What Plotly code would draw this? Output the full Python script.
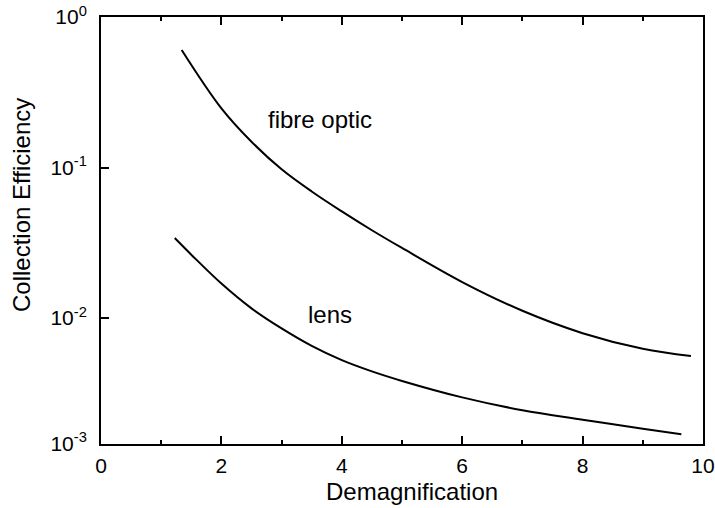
import math
import plotly.graph_objects as go

# Demagnification values and collection efficiencies
fibre_x = [1.34, 2.0, 2.5, 3.0, 3.5, 4.0, 4.5, 5.0, 6.0, 7.0, 8.0, 9.0, 9.8]
fibre_y = [0.604, 0.2472, 0.1483, 0.0973, 0.0693, 0.0511, 0.0383, 0.0292, 0.01734, 0.01117,
           0.00793, 0.00625, 0.00559]

lens_x = [1.225, 1.5, 2.0, 2.5, 3.0, 3.5, 4.0, 4.5, 5.0, 6.0, 7.0, 8.0, 9.0, 9.64]
lens_y = [0.0340, 0.02636, 0.01694, 0.01159, 0.00853, 0.00653, 0.00525, 0.00442, 0.00382,
          0.00297, 0.00244, 0.00211, 0.00184, 0.00169]

x_ticks = [0, 2, 4, 6, 8, 10]
y_tick_vals = [1, 0.1, 0.01, 10 ** -2.835]
y_tick_text = ["10<sup>0</sup>", "10<sup>-1</sup>", "10<sup>-2</sup>", "10<sup>-3</sup>"]

curve_labels = ["fibre optic", "lens"]
label_x = [3.63, 3.81]
label_y = [0.210, 0.0105]

FONT = "Liberation Sans, Arial, Helvetica, sans-serif"

fig = go.Figure()
fig.add_trace(go.Scatter(x=fibre_x, y=fibre_y, mode="lines", name="fibre optic",
                         line=dict(color="black", width=2, shape="spline", smoothing=1.0)))
fig.add_trace(go.Scatter(x=lens_x, y=lens_y, mode="lines", name="lens",
                         line=dict(color="black", width=2, shape="spline", smoothing=1.0)))

fig.update_layout(
    width=715, height=508,
    margin=dict(l=101, r=12, t=17, b=64),
    paper_bgcolor="white", plot_bgcolor="white",
    showlegend=False,
    font=dict(family=FONT, color="black", size=21),
    xaxis=dict(range=[0, 10], tickvals=x_ticks, ticks="inside", ticklen=8, tickwidth=1.5,
               tickcolor="black", showline=True, linecolor="black", linewidth=2, mirror="ticks",
               showgrid=False, zeroline=False, tickfont=dict(size=21), ticklabeloverflow="allow",
               ticklabelstandoff=2, automargin=False,
               minor=dict(dtick=1, tick0=0, ticks="inside", ticklen=4, tickcolor="black", showgrid=False)),
    yaxis=dict(type="log", range=[-2.837, 0], tickvals=y_tick_vals, ticktext=y_tick_text,
               ticks="inside", ticklen=8, tickwidth=1.5, tickcolor="black",
               showline=True, linecolor="black", linewidth=2, mirror=True,
               showgrid=False, zeroline=False, tickfont=dict(size=21), ticklabelstandoff=8,
               ticklabeloverflow="allow", automargin=False),
)

for txt, lx, ly in zip(curve_labels, label_x, label_y):
    fig.add_annotation(x=lx, y=math.log10(ly), xref="x", yref="y", text=txt, showarrow=False,
                       xanchor="center", yanchor="middle",
                       font=dict(size=24, family=FONT, color="black"))

fig.add_annotation(x=0.517, y=-0.112, xref="paper", yref="paper", text="Demagnification",
                   showarrow=False, xanchor="center", yanchor="middle",
                   font=dict(size=24, family=FONT, color="black"))
fig.add_annotation(x=-0.131, y=0.56, xref="paper", yref="paper", text="Collection Efficiency",
                   textangle=-90, showarrow=False, xanchor="center", yanchor="middle",
                   font=dict(size=24, family=FONT, color="black"))

fig.write_html("out.html")
